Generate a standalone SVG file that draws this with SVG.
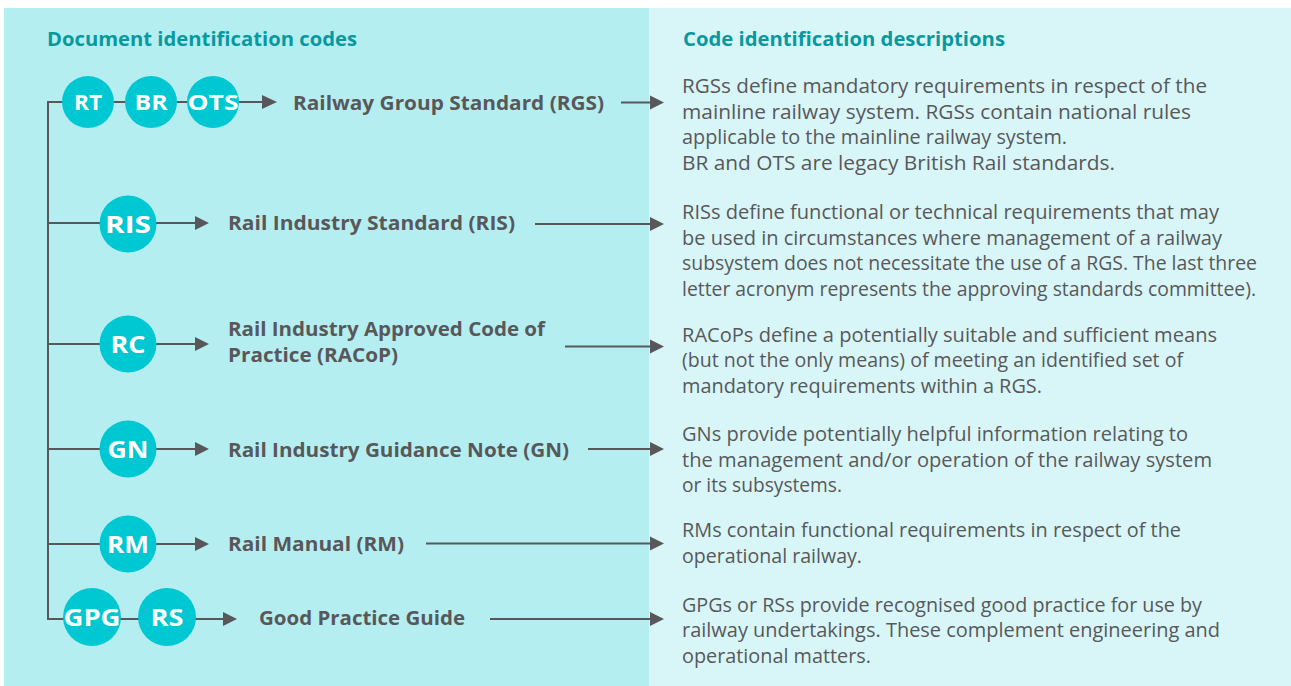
<svg xmlns="http://www.w3.org/2000/svg" width="1291" height="686" viewBox="0 0 1291 686">
<style>
text{font-family:"Open Sans","Liberation Sans",sans-serif}
.hdr{font-weight:700;font-size:19px;fill:#0a989f}
.lbl{font-weight:700;font-size:19px;fill:#58585a}
.desc{font-size:19.5px;fill:#58585a}
.code{font-weight:700;font-size:24px;fill:#ffffff;text-anchor:middle}
.code.s{font-size:21px}
.node circle{fill:#00c8d2}
.ln{stroke:#58585a;stroke-width:2;fill:none}
.ah{fill:#58585a}
</style>
<rect x="0" y="0" width="1291" height="686" fill="#ffffff"/>
<rect x="4" y="8" width="645" height="678" fill="#b5eef1"/>
<rect x="649" y="8" width="642" height="678" fill="#d8f6f8"/>
<text class="hdr" x="47" y="46" textLength="310" lengthAdjust="spacingAndGlyphs">Document identification codes</text>
<text class="hdr" x="683" y="46" textLength="322" lengthAdjust="spacingAndGlyphs">Code identification descriptions</text>
<g id="connectors">
<path class="ln" d="M48 102V620"/>
<path class="ln" d="M47 102H264"/>
<polygon class="ah" points="262,95 277,102 262,109"/>
<path class="ln" d="M47 223H197"/>
<polygon class="ah" points="195,216 209,223 195,230"/>
<path class="ln" d="M47 344H197"/>
<polygon class="ah" points="195,337 209,344 195,351"/>
<path class="ln" d="M47 449H197"/>
<polygon class="ah" points="195,442 209,449 195,456"/>
<path class="ln" d="M47 544H197"/>
<polygon class="ah" points="195,537 209,544 195,551"/>
<path class="ln" d="M47 619H225"/>
<polygon class="ah" points="223,612 237,619 223,626"/>
<path class="ln" d="M621 102.5H652"/>
<polygon class="ah" points="650,95.5 664,102.5 650,109.5"/>
<path class="ln" d="M535 224H652"/>
<polygon class="ah" points="650,217 664,224 650,231"/>
<path class="ln" d="M565 346.5H652"/>
<polygon class="ah" points="650,339.5 664,346.5 650,353.5"/>
<path class="ln" d="M588 449H652"/>
<polygon class="ah" points="650,442 664,449 650,456"/>
<path class="ln" d="M426 543.5H652"/>
<polygon class="ah" points="650,536.5 664,543.5 650,550.5"/>
<path class="ln" d="M490 619H652"/>
<polygon class="ah" points="650,612 664,619 650,626"/>
</g>
<g id="node-rt" class="node"><circle cx="88" cy="102" r="26"/><text class="code s" x="88" y="110" textLength="28" lengthAdjust="spacingAndGlyphs">RT</text></g>
<g id="node-br" class="node"><circle cx="151" cy="102" r="26"/><text class="code s" x="151" y="110" textLength="33" lengthAdjust="spacingAndGlyphs">BR</text></g>
<g id="node-ots" class="node"><circle cx="213" cy="102" r="26"/><text class="code s" x="213" y="110" textLength="51" lengthAdjust="spacingAndGlyphs">OTS</text></g>
<g id="node-ris" class="node"><circle cx="128" cy="224" r="28.5"/><text class="code" x="128" y="233" textLength="46" lengthAdjust="spacingAndGlyphs">RIS</text></g>
<g id="node-rc" class="node"><circle cx="128" cy="344" r="28.5"/><text class="code" x="128" y="353" textLength="35" lengthAdjust="spacingAndGlyphs">RC</text></g>
<g id="node-gn" class="node"><circle cx="128" cy="449" r="28.5"/><text class="code" x="128" y="458" textLength="41" lengthAdjust="spacingAndGlyphs">GN</text></g>
<g id="node-rm" class="node"><circle cx="128" cy="544" r="28.5"/><text class="code" x="128" y="553" textLength="42" lengthAdjust="spacingAndGlyphs">RM</text></g>
<g id="node-gpg" class="node"><circle cx="92" cy="617" r="29"/><text class="code" x="92" y="626" textLength="57" lengthAdjust="spacingAndGlyphs">GPG</text></g>
<g id="node-rs" class="node"><circle cx="167" cy="617" r="29"/><text class="code" x="167" y="626" textLength="33" lengthAdjust="spacingAndGlyphs">RS</text></g>
<g id="label-rgs"><text class="lbl" x="293" y="110" textLength="311" lengthAdjust="spacingAndGlyphs">Railway Group Standard (RGS)</text></g>
<g id="label-ris"><text class="lbl" x="228" y="230" textLength="287" lengthAdjust="spacingAndGlyphs">Rail Industry Standard (RIS)</text></g>
<g id="label-racop"><text class="lbl" x="228" y="336" textLength="317" lengthAdjust="spacingAndGlyphs">Rail Industry Approved Code of</text><text class="lbl" x="228" y="362" textLength="170" lengthAdjust="spacingAndGlyphs">Practice (RACoP)</text></g>
<g id="label-gn"><text class="lbl" x="228" y="457" textLength="341" lengthAdjust="spacingAndGlyphs">Rail Industry Guidance Note (GN)</text></g>
<g id="label-rm"><text class="lbl" x="228" y="551" textLength="176" lengthAdjust="spacingAndGlyphs">Rail Manual (RM)</text></g>
<g id="label-gpg"><text class="lbl" x="259" y="625" textLength="206" lengthAdjust="spacingAndGlyphs">Good Practice Guide</text></g>
<g id="desc-rgs">
<text class="desc" x="682" y="93" textLength="525" lengthAdjust="spacingAndGlyphs">RGSs define mandatory requirements in respect of the</text>
<text class="desc" x="682" y="118.5" textLength="509" lengthAdjust="spacingAndGlyphs">mainline railway system. RGSs contain national rules</text>
<text class="desc" x="682" y="144" textLength="385" lengthAdjust="spacingAndGlyphs">applicable to the mainline railway system.</text>
<text class="desc" x="682" y="169.5" textLength="433" lengthAdjust="spacingAndGlyphs">BR and OTS are legacy British Rail standards.</text>
</g>
<g id="desc-ris">
<text class="desc" x="682" y="219" textLength="537" lengthAdjust="spacingAndGlyphs">RISs define functional or technical requirements that may</text>
<text class="desc" x="682" y="244.5" textLength="540" lengthAdjust="spacingAndGlyphs">be used in circumstances where management of a railway</text>
<text class="desc" x="682" y="270" textLength="575" lengthAdjust="spacingAndGlyphs">subsystem does not necessitate the use of a RGS. The last three</text>
<text class="desc" x="682" y="295.5" textLength="574" lengthAdjust="spacingAndGlyphs">letter acronym represents the approving standards committee).</text>
</g>
<g id="desc-racop">
<text class="desc" x="682" y="341.5" textLength="535" lengthAdjust="spacingAndGlyphs">RACoPs define a potentially suitable and sufficient means</text>
<text class="desc" x="682" y="367" textLength="501" lengthAdjust="spacingAndGlyphs">(but not the only means) of meeting an identified set of</text>
<text class="desc" x="682" y="392.5" textLength="360" lengthAdjust="spacingAndGlyphs">mandatory requirements within a RGS.</text>
</g>
<g id="desc-gn">
<text class="desc" x="682" y="441" textLength="506" lengthAdjust="spacingAndGlyphs">GNs provide potentially helpful information relating to</text>
<text class="desc" x="682" y="466.5" textLength="530" lengthAdjust="spacingAndGlyphs">the management and/or operation of the railway system</text>
<text class="desc" x="682" y="492" textLength="160" lengthAdjust="spacingAndGlyphs">or its subsystems.</text>
</g>
<g id="desc-rm">
<text class="desc" x="682" y="537" textLength="499" lengthAdjust="spacingAndGlyphs">RMs contain functional requirements in respect of the</text>
<text class="desc" x="682" y="562.5" textLength="180" lengthAdjust="spacingAndGlyphs">operational railway.</text>
</g>
<g id="desc-gpg">
<text class="desc" x="682" y="611.5" textLength="520" lengthAdjust="spacingAndGlyphs">GPGs or RSs provide recognised good practice for use by</text>
<text class="desc" x="682" y="637" textLength="538" lengthAdjust="spacingAndGlyphs">railway undertakings. These complement engineering and</text>
<text class="desc" x="682" y="662.5" textLength="189" lengthAdjust="spacingAndGlyphs">operational matters.</text>
</g>
</svg>
